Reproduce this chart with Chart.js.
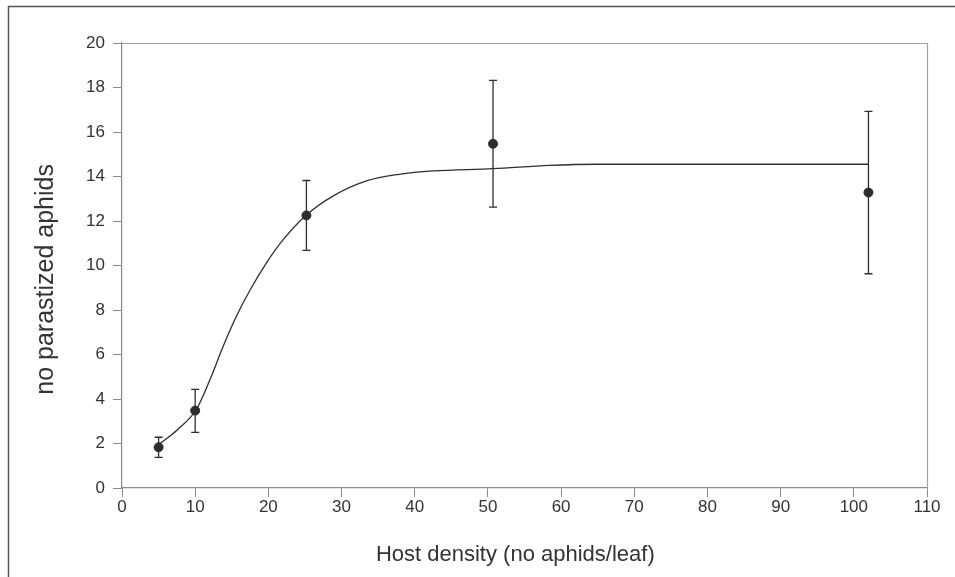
<!DOCTYPE html>
<html>
<head>
<meta charset="utf-8">
<script src="https://cdn.jsdelivr.net/npm/chart.js@4.4.1/dist/chart.umd.min.js"></script>
<style>
  html, body { margin: 0; padding: 0; background: #fff; }
  #wrap { width: 955px; height: 577px; }
</style>
</head>
<body>
<div id="wrap"><canvas id="chart-canvas" width="955" height="577"></canvas></div>
<script>
// measured means with error bars
const hostDensity = [5, 10, 25.2, 50.7, 102];
const parasitized = [1.83, 3.48, 12.25, 15.47, 13.28];
const errLow = [1.38, 2.5, 10.68, 12.62, 9.63];
const errHigh = [2.28, 4.43, 13.82, 18.32, 16.93];

// fitted curve
const curveX = [5.2, 7.5, 10.2, 12, 13.8, 15.6, 17.5, 19.7, 22, 25.2, 29, 33.4, 37.9, 42.5, 50.7, 58.4, 65, 80, 102];
const curveY = [2.0, 2.6, 3.55, 4.85, 6.35, 7.7, 8.9, 10.1, 11.15, 12.27, 13.15, 13.8, 14.1, 14.25, 14.35, 14.5, 14.55, 14.55, 14.55];

const xTicks = [0, 10, 20, 30, 40, 50, 60, 70, 80, 90, 100, 110];
const yTicks = [0, 2, 4, 6, 8, 10, 12, 14, 16, 18, 20];

const ink = '#2e2e2e';
const axisGrey = '#8a8a8a';
const FONT = "'Liberation Sans', Arial, sans-serif";

// error bars + frame around the plot and the page
const extras = {
  id: 'extras',
  beforeDraw(chart) {
    const c = chart.ctx;
    c.save();
    c.strokeStyle = '#555';
    c.lineWidth = 1.5;
    c.beginPath();
    c.moveTo(8.5, 577);
    c.lineTo(8.5, 6.5);
    c.lineTo(955, 6.5);
    c.stroke();
    c.restore();
  },
  afterDraw(chart) {
    const c = chart.ctx;
    const a = chart.chartArea;
    const xs = chart.scales.x, ys = chart.scales.y;
    c.save();
    c.strokeStyle = '#a0a0a0';
    c.lineWidth = 1.2;
    c.beginPath();
    c.moveTo(a.left, a.top + 0.5);
    c.lineTo(a.right + 0.5, a.top + 0.5);
    c.lineTo(a.right + 0.5, a.bottom);
    c.stroke();

    c.strokeStyle = ink;
    c.lineWidth = 1.3;
    hostDensity.forEach((d, i) => {
      const px = xs.getPixelForValue(d);
      const top = ys.getPixelForValue(errHigh[i]);
      const bot = ys.getPixelForValue(errLow[i]);
      c.beginPath();
      c.moveTo(px, top);
      c.lineTo(px, bot);
      c.moveTo(px - 4, top);
      c.lineTo(px + 4, top);
      c.moveTo(px - 4, bot);
      c.lineTo(px + 4, bot);
      c.stroke();
    });
    c.restore();
  }
};

new Chart(document.getElementById('chart-canvas'), {
  type: 'scatter',
  data: {
    datasets: [
      {
        label: 'fit',
        data: curveX.map((x, i) => ({ x: x, y: curveY[i] })),
        showLine: true,
        borderColor: ink,
        borderWidth: 1.3,
        pointRadius: 0,
        cubicInterpolationMode: 'monotone',
      },
      {
        label: 'mean',
        data: hostDensity.map((x, i) => ({ x: x, y: parasitized[i] })),
        backgroundColor: ink,
        borderColor: ink,
        pointRadius: 4.5,
      },
    ],
  },
  options: {
    responsive: false,
    animation: false,
    devicePixelRatio: 1,
    layout: { padding: { top: 43, right: 28, left: 0, bottom: 0 } },
    plugins: { legend: { display: false }, tooltip: { enabled: false } },
    scales: {
      x: {
        type: 'linear',
        min: 0,
        max: 110,
        afterBuildTicks: (s) => { s.ticks = xTicks.map(v => ({ value: v })); },
        afterFit: (s) => { s.height = 89; },
        grid: { drawOnChartArea: false, tickLength: 9, color: axisGrey },
        border: { color: axisGrey, width: 1.2 },
        ticks: { color: '#333', padding: 0, maxRotation: 0, font: { family: FONT, size: 17 } },
        title: {
          display: true,
          // trailing spaces nudge the centred title a little to the left
          text: 'Host density (no aphids/leaf)   ',
          color: '#333',
          padding: { top: 0, bottom: 9 },
          font: { family: FONT, size: 22 },
        },
      },
      y: {
        min: 0,
        max: 20,
        afterBuildTicks: (s) => { s.ticks = yTicks.map(v => ({ value: v })); },
        afterFit: (s) => { s.width = 122; },
        grid: { drawOnChartArea: false, tickLength: 9, color: axisGrey },
        border: { color: axisGrey, width: 1.2 },
        ticks: { color: '#333', padding: 8, font: { family: FONT, size: 17 } },
        title: {
          display: true,
          text: 'no parastized aphids    ',
          color: '#333',
          padding: { top: 31, bottom: 0 },
          font: { family: FONT, size: 25 },
        },
      },
    },
  },
  plugins: [extras],
});
</script>
</body>
</html>
